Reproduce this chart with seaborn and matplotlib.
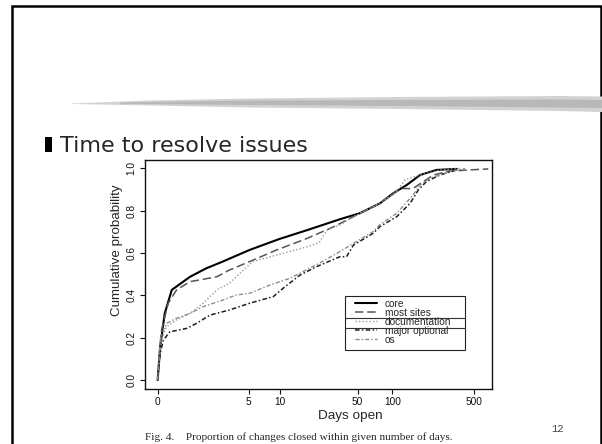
import numpy as np
import pandas as pd
import matplotlib
matplotlib.use("Agg")
import matplotlib.pyplot as plt
from matplotlib.patches import Rectangle, Polygon
from matplotlib.lines import Line2D
import seaborn as sns

# ---------------- data ----------------
core_days = [0, 0.05, 0.15, 0.32, 0.89, 1.6, 2.6, 5.1, 10, 18, 35, 52, 78, 102, 133, 173, 240, 356]
core_prob = [0, 0.157, 0.315, 0.426, 0.488, 0.528, 0.56, 0.615, 0.667, 0.709, 0.76, 0.788, 0.835, 0.883, 0.922, 0.969, 0.993, 0.998]

most_days = [0, 0.08, 0.23, 0.45, 0.89, 2.2, 3.1, 5.1, 9.4, 18, 31, 49, 78, 102, 118, 150, 225, 313, 665]
most_prob = [0, 0.236, 0.363, 0.426, 0.465, 0.488, 0.52, 0.56, 0.615, 0.67, 0.725, 0.78, 0.835, 0.88, 0.905, 0.905, 0.969, 0.988, 0.998]

doc_days = [0, 0.08, 0.19, 0.45, 0.89, 1.45, 2.2, 3.1, 4.4, 5.5, 9.4, 18, 23, 27, 35, 49, 78, 109, 128, 151, 256, 380]
doc_prob = [0, 0.19, 0.252, 0.284, 0.315, 0.363, 0.426, 0.457, 0.52, 0.56, 0.591, 0.63, 0.65, 0.709, 0.733, 0.78, 0.835, 0.89, 0.946, 0.96, 0.993, 1.0]

major_days = [0, 0.05, 0.12, 0.27, 0.77, 1.15, 1.8, 3.1, 5.1, 8.1, 8.7, 10.8, 15.4, 21.8, 35, 40, 46, 68, 78, 109, 142, 167, 196, 256, 356]
major_prob = [0, 0.126, 0.189, 0.228, 0.244, 0.268, 0.307, 0.331, 0.363, 0.39, 0.394, 0.434, 0.496, 0.536, 0.583, 0.583, 0.638, 0.693, 0.725, 0.772, 0.835, 0.898, 0.938, 0.969, 0.993]

os_days = [0, 0.06, 0.19, 0.45, 0.89, 1.45, 2.6, 3.7, 5.1, 8.1, 12.5, 23, 35, 46, 68, 78, 109, 151, 173, 211, 313, 420]
os_prob = [0, 0.205, 0.268, 0.292, 0.315, 0.347, 0.378, 0.402, 0.41, 0.449, 0.481, 0.552, 0.607, 0.646, 0.701, 0.735, 0.788, 0.875, 0.922, 0.954, 0.985, 1.0]

series_names = ["core", "most sites", "documentation", "major optional", "os"]
series_days = [core_days, most_days, doc_days, major_days, os_days]
series_prob = [core_prob, most_prob, doc_prob, major_prob, os_prob]

x_tick_days = [0, 5, 10, 50, 100, 500]
y_ticks = [0.0, 0.2, 0.4, 0.6, 0.8, 1.0]

title = "Time to resolve issues"
caption = "Fig. 4.    Proportion of changes closed within given number of days."
page_no = "12"

# ---------------- styling ----------------
sns.set_style("ticks")
plt.rcParams["font.family"] = ["Liberation Sans", "DejaVu Sans"]

styles = {
    "core": dict(color="#000000", linewidth=1.5, linestyle="-"),
    "most sites": dict(color="#555555", linewidth=1.1, linestyle=(0, (5.5, 2.5))),
    "documentation": dict(color="#9a9a9a", linewidth=1.0, linestyle=(0, (1, 1.5))),
    "major optional": dict(color="#1e1e1e", linewidth=1.1, linestyle=(0, (3, 1.5, 1, 1.5))),
    "os": dict(color="#8c8c8c", linewidth=1.0, linestyle=(0, (3, 1.5, 1, 1.5))),
}

rows = []
for name, d, p in zip(series_names, series_days, series_prob):
    for dd, pp in zip(d, p):
        rows.append({"group": name, "days": dd, "prob": pp})
df = pd.DataFrame(rows)
df["xlog"] = np.log10(df["days"] + 1.0)

W, H = 602, 444
fig = plt.figure(figsize=(W / 100, H / 100), dpi=100)
fig.patch.set_facecolor("white")

def fx(x):
    return x / W

def fy(y):
    return 1 - y / H

ax = fig.add_axes([fx(145), fy(388.5), 347 / W, 228.5 / H])

for name in series_names:
    sub = df[df["group"] == name]
    sns.lineplot(data=sub, x="xlog", y="prob", ax=ax, label=name,
                 estimator=None, sort=False, **styles[name])

ax.set_xlim(-0.108, 2.855)
ax.set_ylim(-0.04, 1.04)
ax.set_xticks(np.log10(np.array(x_tick_days, dtype=float) + 1))
ax.set_xticklabels([str(t) for t in x_tick_days])
ax.set_yticks(y_ticks)
ax.set_yticklabels([f"{t:.1f}" for t in y_ticks], rotation=90, va="center")
ax.tick_params(direction="out", length=3.6, width=0.8, pad=2.5, labelsize=7.3, colors="#111111")
for s in ax.spines.values():
    s.set_visible(True)
    s.set_linewidth(1.0)
    s.set_color("#111111")

ax.set_xlabel("Days open", fontsize=9.7)
ax.set_ylabel("Cumulative probability", fontsize=9.6)
ax.xaxis.set_label_coords((350 - 145) / 347, (388.5 - 416) / 228.5)
ax.xaxis.label.set_va("center")
ax.yaxis.set_label_coords((117 - 145) / 347, (388.5 - 250) / 228.5)
ax.yaxis.label.set_va("center")

# legend (R-style box)
leg = ax.legend(loc="upper left", bbox_to_anchor=((355 - 145) / 347, (388.5 - 298.6) / 228.5),
                frameon=False, fontsize=7.3, labelspacing=-0.1, handlelength=2.15,
                handletextpad=0.82, borderpad=0, borderaxespad=0)
ax.add_patch(Rectangle(((344.5 - 145) / 347, (388.5 - 349.5) / 228.5), 120.5 / 347, 53.5 / 228.5,
                       transform=ax.transAxes, fill=False, edgecolor="#222222", linewidth=0.8, zorder=5))
for yy in (318.3, 327.7):
    fig.add_artist(Line2D([fx(344.5), fx(465)], [fy(yy), fy(yy)], color="#333333", linewidth=0.8))

# ---------------- slide decoration ----------------
fig.add_artist(Rectangle((fx(12), -0.05), fx(601.3) - fx(12), fy(6.2) + 0.05,
                         transform=fig.transFigure, fill=False, edgecolor="black", linewidth=1.8))
top = [(72, 103.5), (150, 100.5), (250, 98.5), (400, 97), (560, 96), (602, 96.5)]
bot = [(602, 112), (560, 111), (400, 109), (250, 107.5), (150, 105.5), (72, 104)]
fig.add_artist(Polygon([(fx(x), fy(y)) for x, y in top + bot], closed=True,
                       transform=fig.transFigure, facecolor="#d2d2d2", edgecolor="none"))
top2 = [(120, 102.5), (250, 100.5), (400, 100), (560, 99.5), (602, 100)]
bot2 = [(602, 108), (560, 107.5), (400, 106), (250, 105), (120, 103.8)]
fig.add_artist(Polygon([(fx(x), fy(y)) for x, y in top2 + bot2], closed=True,
                       transform=fig.transFigure, facecolor="#b8b8b8", edgecolor="none"))

fig.add_artist(Rectangle((fx(45), fy(151.7)), fx(51.7) - fx(45), fy(136.7) - fy(151.7),
                         transform=fig.transFigure, facecolor="black", edgecolor="none"))
fig.text(fx(60), fy(151.7), title, fontsize=16, family=["DejaVu Sans"], va="baseline", ha="left")
fig.text(fx(299), fy(437.5), caption, fontsize=8.1, family=["Liberation Serif"], ha="center", va="center")
fig.text(fx(557.5), fy(429), page_no, fontsize=7.5, family=["Liberation Mono"], color="#444444",
         ha="center", va="center")

fig.savefig("out.png", dpi=100)
